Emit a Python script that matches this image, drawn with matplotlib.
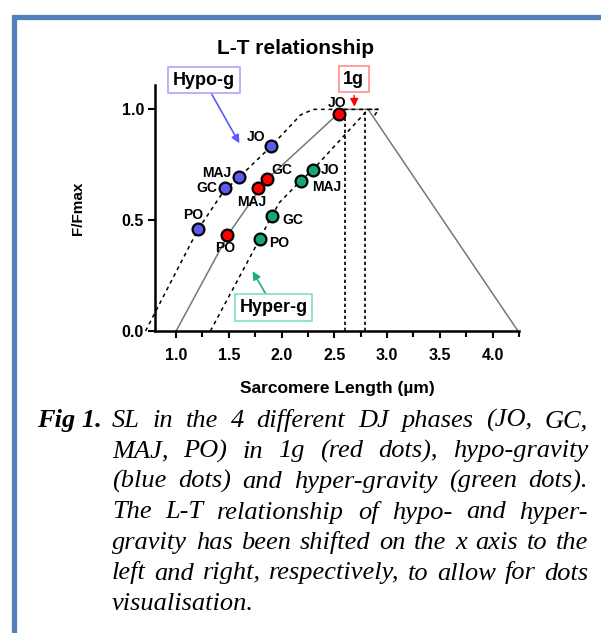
import matplotlib
matplotlib.use('Agg')
import matplotlib.pyplot as plt
from matplotlib.patches import Rectangle

plt.rcParams['font.family'] = ['Liberation Sans', 'DejaVu Sans']

# ─── data ───
phases = ['JO', 'GC', 'MAJ', 'PO']

sl_1g = [2.54, 1.864, 1.775, 1.484]
ff_1g = [0.98, 0.685, 0.643, 0.432]
sl_hypo = [1.90, 1.468, 1.595, 1.212]
ff_hypo = [0.833, 0.643, 0.695, 0.459]
sl_hyper = [2.297, 1.905, 2.183, 1.791]
ff_hyper = [0.728, 0.518, 0.679, 0.413]

# L-T curves
lt_1g_x = [1.0, 1.5, 1.85, 2.58, 2.82, 4.24]
lt_1g_y = [0.0, 0.44, 0.68, 1.0, 1.0, 0.0]
lt_hypo_x = [0.71, 1.21, 1.45, 1.6, 1.9, 2.18, 2.3, 2.92, 2.87]
lt_hypo_y = [0.0, 0.46, 0.63, 0.695, 0.833, 0.975, 1.0, 1.0, 0.965]
lt_hyper_x = [1.325, 1.79, 1.905, 1.98, 2.183, 2.297, 2.82, 2.92]
lt_hyper_y = [0.0, 0.413, 0.518, 0.58, 0.679, 0.728, 1.0, 1.0]

vlines_x = [2.605, 2.795]
vlines_top = [0.97, 0.99]

# label offsets (pixels) per point, order as phases
off_1g = [(-1, 11), (15, 9), (-6, -14), (-2, -13)]
off_hypo = [(-15, 9), (-19, 0), (-22, 4), (-5, 14)]
off_hyper = [(17, 0), (21, -4), (26, -6), (20, -4)]

c_red, c_blue, c_green = '#ff0000', '#5b5bf0', '#17a57a'

caption_lines = [
    'SL in the 4 different DJ phases (JO, GC,',
    'MAJ, PO) in 1g (red dots), hypo-gravity',
    '(blue dots) and hyper-gravity (green dots).',
    'The L-T relationship of hypo- and hyper-',
    'gravity has been shifted on the x axis to the',
    'left and right, respectively, to allow for dots',
    'visualisation.',
]

W, H = 601, 633
fig = plt.figure(figsize=(W / 100, H / 100), dpi=100)

# blue frame
fig.patches.append(Rectangle((13.5 / W, -0.1), 1.2, (H - 17.5) / H + 0.1,
                             transform=fig.transFigure, fill=False,
                             edgecolor='#4f81bd', linewidth=3.8))

ax = fig.add_axes([155 / W, 1 - 331 / H, 364 / W, 246 / H])
ax.set_xlim(0.8, 4.25)
ax.set_ylim(0, 1.11)
for s in ['top', 'right']:
    ax.spines[s].set_visible(False)
for s in ['left', 'bottom']:
    ax.spines[s].set_linewidth(1.8)

ax.set_xticks([1.0, 1.5, 2.0, 2.5, 3.0, 3.5, 4.0])
ax.set_xticks([1.25, 1.75, 2.25, 2.75, 3.25, 3.75, 4.25], minor=True)
ax.set_yticks([0.0, 0.5, 1.0])
ax.tick_params(axis='both', which='major', length=5, width=1.5, labelsize=11.5, pad=3)
ax.tick_params(axis='x', which='minor', length=4, width=1.5)
for lab in ax.get_xticklabels() + ax.get_yticklabels():
    lab.set_fontweight('bold')
ax.tick_params(axis='x', pad=7)

ax.set_xlabel('Sarcomere Length (µm)', fontsize=12.5, fontweight='bold', labelpad=13)
ax.set_ylabel('F/Fmax', fontsize=11, fontweight='bold', labelpad=26)
ax.set_title('L-T relationship', fontsize=15, fontweight='bold', pad=22, x=0.385)

# curves
ax.plot(lt_1g_x, lt_1g_y, color='#777777', lw=1.1, clip_on=False, zorder=2)
ax.plot(lt_hypo_x, lt_hypo_y, color='black', lw=1.1, ls=(0, (2.5, 2.5)), clip_on=False, zorder=2)
ax.plot(lt_hyper_x, lt_hyper_y, color='black', lw=1.1, ls=(0, (2.5, 2.5)), clip_on=False, zorder=2)
for vx, vt in zip(vlines_x, vlines_top):
    ax.plot([vx, vx], [0, vt], color='black', lw=1.2, ls=(0, (2, 1.6)), zorder=2)

# dots + labels
for xs, ys, col, offs in [(sl_1g, ff_1g, c_red, off_1g),
                          (sl_hypo, ff_hypo, c_blue, off_hypo),
                          (sl_hyper, ff_hyper, c_green, off_hyper)]:
    ax.plot(xs, ys, 'o', ms=8.5, mfc=col, mec='black', mew=1.6, ls='none',
            zorder=4, clip_on=False)
    for x, y, name, (dx, dy) in zip(xs, ys, phases, offs):
        ax.annotate(name, (x, y), xytext=(dx * 0.72, dy * 0.72), textcoords='offset points',
                    ha='center', va='center', fontsize=10, fontweight='bold', zorder=5)

# annotation boxes
ax.annotate('Hypo-g', xy=(1.60, 0.847), xytext=(1.264, 1.131), ha='center', va='center',
            fontsize=13, fontweight='bold', annotation_clip=False,
            bbox=dict(boxstyle='square,pad=0.25', fc='white', ec='#a8a8ff', lw=1.2),
            arrowprops=dict(arrowstyle='-|>', color='#5a5aff', lw=1.2, mutation_scale=12,
                            shrinkA=0, shrinkB=0))
ax.annotate('1g', xy=(2.69, 1.012), xytext=(2.684, 1.137), ha='center', va='center',
            fontsize=13, fontweight='bold', annotation_clip=False,
            bbox=dict(boxstyle='square,pad=0.25', fc='white', ec='#ff8c8c', lw=1.2),
            arrowprops=dict(arrowstyle='-|>', color='#ff0000', lw=1.0, mutation_scale=12,
                            shrinkA=2, shrinkB=0))
ax.annotate('Hyper-g', xy=(1.725, 0.27), xytext=(1.924, 0.106), ha='center', va='center',
            fontsize=13, fontweight='bold', annotation_clip=False,
            bbox=dict(boxstyle='square,pad=0.25', fc='white', ec='#80e0c0', lw=1.2),
            arrowprops=dict(arrowstyle='-|>', color='#1fb080', lw=1.2, mutation_scale=12,
                            shrinkA=0, shrinkB=0))

# caption (justified)
serif = ['Liberation Serif', 'DejaVu Serif']
cap_size = 19
fig.text(37 / W, 1 - 427 / H, 'Fig 1.', fontsize=cap_size, family=serif,
         style='italic', weight='bold', va='baseline', ha='left')

renderer = fig.canvas.get_renderer()
left_px, right_px = 112, 588
for i, line in enumerate(caption_lines):
    base = 1 - (427 + 30.5 * i) / H
    words = line.split(' ')
    if i == len(caption_lines) - 1:
        fig.text(left_px / W, base, line, fontsize=cap_size, family=serif,
                 style='italic', va='baseline', ha='left')
        continue
    arts = [fig.text(0, base, w, fontsize=cap_size, family=serif, style='italic',
                     va='baseline', ha='left') for w in words]
    widths = [a.get_window_extent(renderer).width for a in arts]
    gap = (right_px - left_px - sum(widths)) / (len(words) - 1)
    xpos = left_px
    for a, wd in zip(arts, widths):
        a.set_x(xpos / W)
        xpos += wd + gap

fig.savefig('out.png', dpi=100)
